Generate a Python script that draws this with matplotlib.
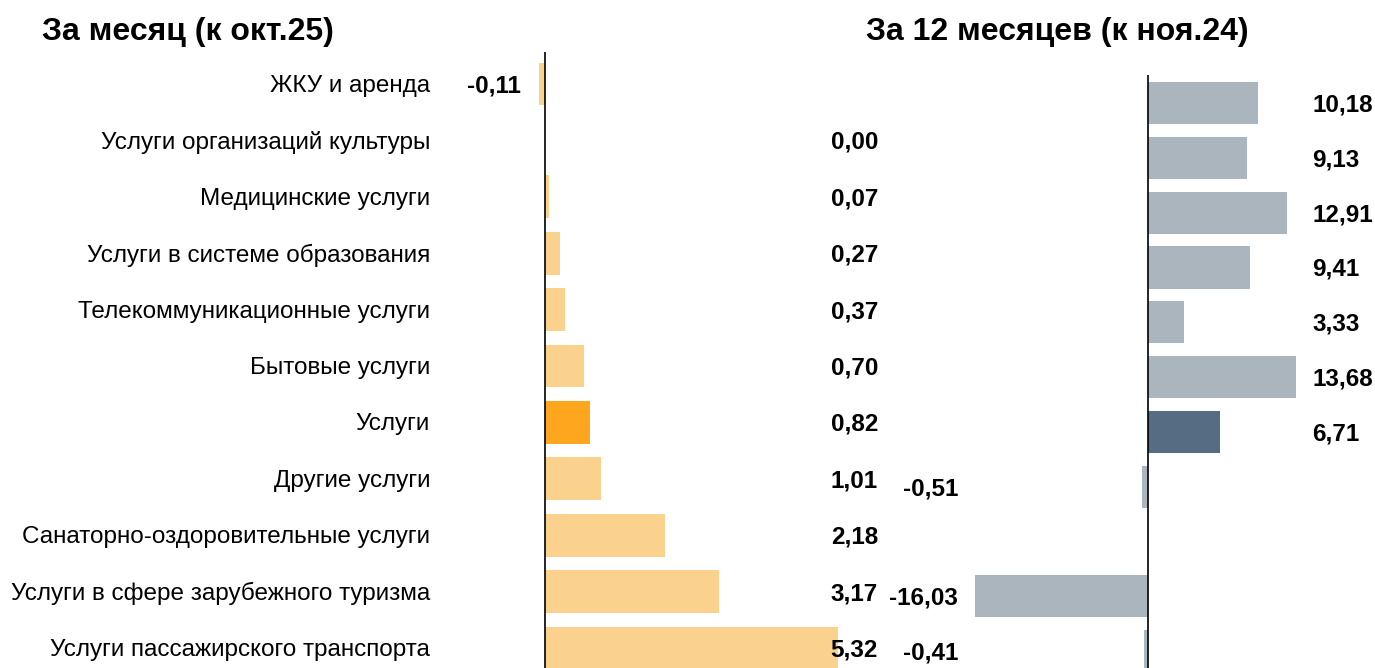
import numpy as np
import matplotlib
matplotlib.use("Agg")
import matplotlib.pyplot as plt
import matplotlib.transforms as mtransforms

plt.rcParams["font.family"] = ["Liberation Sans", "DejaVu Sans"]

categories = [
    "ЖКУ и аренда",
    "Услуги организаций культуры",
    "Медицинские услуги",
    "Услуги в системе образования",
    "Телекоммуникационные услуги",
    "Бытовые услуги",
    "Услуги",
    "Другие услуги",
    "Санаторно-оздоровительные услуги",
    "Услуги в сфере зарубежного туризма",
    "Услуги пассажирского транспорта",
]
month_values = [-0.11, 0.00, 0.07, 0.27, 0.37, 0.70, 0.82, 1.01, 2.18, 3.17, 5.32]
year_values = [10.18, 9.13, 12.91, 9.41, 3.33, 13.68, 6.71, -0.51, np.nan, -16.03, -0.41]
highlight = "Услуги"

title_month = "За месяц (к окт.25)"
title_year = "За 12 месяцев (к ноя.24)"

W, H = 1375, 668
fig = plt.figure(figsize=(W / 100, H / 100), dpi=100)


def px_axes(x0, x1, top, bottom):
    # pixel box -> figure fraction
    return [x0 / W, (H - bottom) / H, (x1 - x0) / W, (bottom - top) / H]


def fmt(v):
    return f"{v:.2f}".replace(".", ",")


n = len(categories)
y = np.arange(n)
lab_fs = 17.5
val_fs = 17.5

# --- left panel: month
ax1 = fig.add_axes(px_axes(450, 900, 52, 52 + 56.4 * (n - 0.5 + 0.567)))
cols1 = ["#FFA61F" if c == highlight else "#FAD18D" for c in categories]
ax1.barh(y, month_values, height=0.76, color=cols1)
ax1.set_xlim(-95 / 55, 355 / 55)
ax1.set_ylim(n - 0.5, -0.567)
ax1.axvline(0, color="black", lw=1.2)
ax1.axis("off")
tr1 = mtransforms.blended_transform_factory(fig.transFigure, ax1.transData)
tr1 = mtransforms.offset_copy(tr1, fig=fig, y=-2, units="dots")
for i, (c, v) in enumerate(zip(categories, month_values)):
    ax1.text(430 / W, i, c, transform=tr1, ha="right", va="center", fontsize=lab_fs)
    if v < 0:
        ax1.text(521 / W, i, fmt(v), transform=tr1, ha="right", va="center",
                 fontsize=val_fs, fontweight="bold")
    else:
        ax1.text(878 / W, i, fmt(v), transform=tr1, ha="right", va="center",
                 fontsize=val_fs, fontweight="bold")

# --- right panel: 12 months
ax2 = fig.add_axes(px_axes(960, 1375, 75, 75 + 54.8 * (n - 0.5 + 0.511)))
cols2 = ["#566C82" if c == highlight else "#ABB5BE" for c in categories]
ax2.barh(y, year_values, height=0.77, color=cols2)
ax2.set_xlim(-188 / 10.8, 227 / 10.8)
ax2.set_ylim(n - 0.5, -0.511)
ax2.axvline(0, color="black", lw=1.2)
ax2.axis("off")
tr2 = mtransforms.blended_transform_factory(fig.transFigure, ax2.transData)
tr2 = mtransforms.offset_copy(tr2, fig=fig, y=-2, units="dots")
for i, v in enumerate(year_values):
    if np.isnan(v):
        continue
    if v < 0:
        ax2.text(958 / W, i, fmt(v), transform=tr2, ha="right", va="center",
                 fontsize=val_fs, fontweight="bold")
    else:
        ax2.text(1312 / W, i, fmt(v), transform=tr2, ha="left", va="center",
                 fontsize=val_fs, fontweight="bold")

fig.text(42 / W, 1 - 32 / H, title_month, ha="left", va="center",
         fontsize=23, fontweight="bold")
fig.text(866 / W, 1 - 32 / H, title_year, ha="left", va="center",
         fontsize=23, fontweight="bold")

fig.savefig("out.png", dpi=100)
